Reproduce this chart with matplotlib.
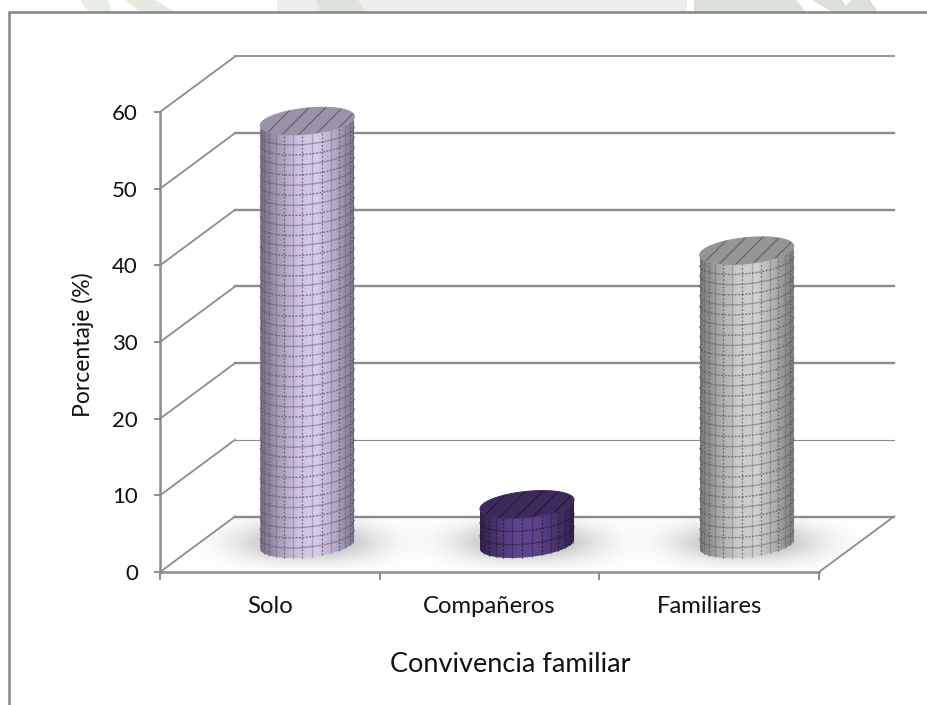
import numpy as np
import matplotlib
matplotlib.use("Agg")
import matplotlib.pyplot as plt
from matplotlib.colors import LinearSegmentedColormap
from matplotlib.patches import Polygon

categories = ["Solo", "Compañeros", "Familiares"]
values = [55.2, 5.2, 38.3]
yticks = [0, 10, 20, 30, 40, 50, 60]
grid_lw = [1.7, 0.8, 1.7, 1.7, 1.7, 1.7, 1.3]

body_colors = [
    ["#766d82", "#a99db8", "#cdc1de", "#d8cde8", "#b5a9c6", "#7f758c"],
    ["#33244f", "#4d3674", "#604490", "#5e438c", "#4a3470", "#31234c"],
    ["#7b7b7b", "#a8a8a8", "#cbcbcb", "#d0d0d0", "#adadad", "#7a7a7a"],
]
top_colors = ["#9a93a8", "#3c2a5c", "#959595"]
line_colors = ["#5c5468", "#20142f", "#5a5a5a"]
rows = [41, 2, 28]

W, H = 928, 705
AXIS = "#8c8c8c"
plt.rcParams["font.family"] = ["Lato", "DejaVu Sans"]
plt.rcParams["hatch.linewidth"] = 0.7

fig = plt.figure(figsize=(W / 100, H / 100), dpi=100)
bg = fig.add_axes([0, 0, 1, 1])
bg.set_xlim(0, W)
bg.set_ylim(H, 0)
bg.axis("off")

# faint background strip above the frame
bg.fill([80, 108, 112, 88], [0, 0, 12, 12], color="#e8ede5", lw=0)
bg.fill([125, 155, 175, 140], [0, 0, 12, 12], color="#e4eae0", lw=0)
bg.fill([277, 687, 687, 277], [0, 0, 12, 12], color="#ecefec", lw=0)
bg.fill([316, 358, 366, 320], [0, 0, 12, 12], color="#dde2da", lw=0)
bg.fill([694, 796, 806, 694], [0, 0, 12, 12], color="#dbe0d8", lw=0)
bg.fill([812, 842, 850, 832], [0, 0, 12, 12], color="#dbe0d8", lw=0)
bg.fill([852, 870, 878, 838], [0, 0, 12, 12], color="#dbe0d8", lw=0)
bg.plot([9, 9, W], [H, 12, 12], color="#858585", lw=1.8, solid_joinstyle="miter")

ax = fig.add_axes([160 / W, 1 - 572 / H, 659 / W, 460 / H])
ax.patch.set_alpha(0)
for s in ax.spines.values():
    s.set_visible(False)

# depth of the 3d box in data units
dx = 75 / (659 / 3)
dy = 55.5 / (460 / 60)
# cylinder footprint in data units
rx = 47 / (659 / 3)
ry = 13 / (460 / 60)
tilt = 4.5 / (460 / 60)

floor = Polygon([(0, 0), (3, 0), (3 + dx, dy), (dx, dy)], closed=True, fc="none", ec="none")
ax.add_patch(floor)

# back wall grid and left wall slants
for v, lw in zip(yticks, grid_lw):
    ax.plot([dx, 3 + dx], [v + dy, v + dy], color=AXIS, lw=lw, clip_on=False, zorder=1)
    ax.plot([0, dx], [v, v + dy], color=AXIS, lw=1.3, clip_on=False, zorder=1)
ax.plot([3, 3 + dx], [0, dy], color=AXIS, lw=1.3, clip_on=False, zorder=1)
ax.plot([0, 3], [0, 0], color=AXIS, lw=1.8, clip_on=False, zorder=1)
ax.plot([0, 0], [0, 60], color=AXIS, lw=1.8, clip_on=False, zorder=1)

gx = np.linspace(-1.3, 1.3, 200)
gy = np.linspace(-1, 1, 100)
shade = np.exp(-(np.abs(gx)[None, :] / 0.75) ** 2.5) * np.exp(-(np.abs(gy)[:, None] / 0.7) ** 2)
rgba = np.zeros(shade.shape + (4,))
rgba[..., :3] = 0.5
rgba[..., 3] = shade * 0.55

t = np.linspace(0, np.pi, 80)


def arc(cx, base, th):
    return cx + rx * np.cos(th), base + ry * np.sin(th) + tilt * np.cos(th)


for i, val in enumerate(values):
    cx = i + 0.5 + dx / 2
    base = dy / 2
    top = base + val

    # soft shadow on the floor
    im = ax.imshow(rgba, extent=[cx - 0.55, cx + 0.55, base - 3.1, dy], origin="lower",
                   aspect="auto", zorder=2, interpolation="bilinear")
    im.set_clip_box(fig.bbox)
    im.set_clip_path(floor)

    # body, front half of each ellipse runs along th in pi..2pi
    xb, yb = arc(cx, base, t + np.pi)
    xt, yt = arc(cx, top, t[::-1] + np.pi)
    body = Polygon(np.column_stack([np.r_[xb, xt], np.r_[yb, yt]]), closed=True, fc="none", ec="none")
    ax.add_patch(body)
    cmap = LinearSegmentedColormap.from_list("body", body_colors[i])
    grad = ax.imshow(np.linspace(0, 1, 128)[None, :], extent=[cx - rx, cx + rx, -1, top + 3],
                     cmap=cmap, aspect="auto", zorder=3)
    grad.set_clip_box(fig.bbox)
    grad.set_clip_path(body)

    # mesh on the body
    for k, th in enumerate(np.linspace(0, np.pi, 16)[1:-1]):
        x0 = cx + rx * np.cos(th)
        y0 = -ry * np.sin(th) + tilt * np.cos(th)
        style = (0, (1.5, 1.5)) if k % 2 else "-"
        a = 0.8 if k % 2 else 0.35
        ax.plot([x0, x0], [base + y0, top + y0], color=line_colors[i], lw=0.9, ls=style, alpha=a,
                zorder=4, clip_on=False)
    for k, level in enumerate(np.linspace(base, top, rows[i] + 2)[1:-1]):
        xr, yr = arc(cx, level, t + np.pi)
        style = (0, (1.5, 1.0)) if k % 2 else "-"
        a = 0.7 if k % 2 else 0.45
        ax.plot(xr, yr, color=line_colors[i], lw=1.0, ls=style, alpha=a, zorder=4, clip_on=False)

    # hatched lid
    th_full = np.linspace(0, 2 * np.pi, 160)
    xl, yl = arc(cx, top, th_full)
    ax.add_patch(Polygon(np.column_stack([xl, yl]), closed=True, fc=top_colors[i], ec=top_colors[i],
                         lw=0.8, zorder=5, clip_on=False))
    ax.add_patch(Polygon(np.column_stack([xl, yl]), closed=True, fc="none", ec=line_colors[i],
                         hatch="//", lw=0, zorder=6, clip_on=False))

ax.set_xlim(0, 3)
ax.set_ylim(0, 60)
ax.set_xticks([0, 1, 2, 3])
ax.set_xticklabels([])
ax.set_yticks(yticks)
ax.tick_params(axis="y", length=4, width=1.4, color=AXIS, labelsize=16, pad=12, labelcolor="#111111")
ax.tick_params(axis="x", length=6, width=1.4, color=AXIS)
for lab in ax.get_yticklabels():
    lab.set_va("center_baseline")

for i, name in enumerate(categories):
    ax.annotate(name, (i + 0.5, 0), xytext=(0, -25), textcoords="offset points", ha="center",
                va="center", fontsize=17.2, color="#111111", annotation_clip=False)

bg.text(83, 345, "Porcentaje (%)", rotation=90, ha="center", va="center", fontsize=16.5, color="#111111")
bg.text(510, 665, "Convivencia familiar", ha="center", va="center", fontsize=19.5, color="#111111")

fig.savefig("out.png", dpi=100)
